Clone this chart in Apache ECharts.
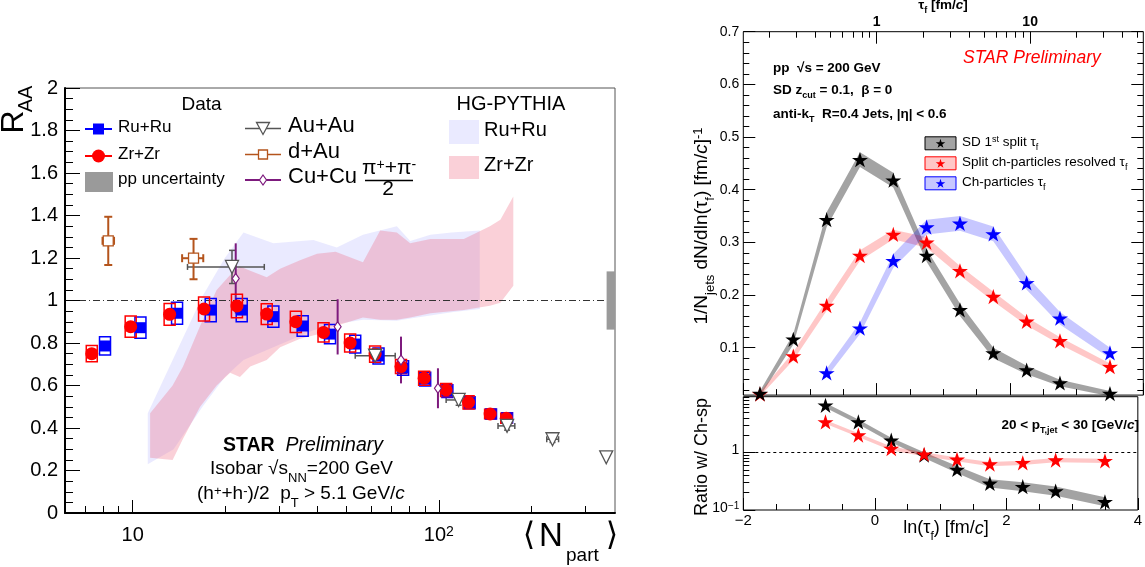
<!DOCTYPE html>
<html><head><meta charset="utf-8"><title>STAR isobar R_AA and tau_f</title>
<script src="https://cdn.jsdelivr.net/npm/echarts@6.0.0/dist/echarts.min.js"></script>
<style>html,body{margin:0;padding:0;background:#fff;}#chart{width:1145px;height:567px;}</style>
</head><body><div id="chart"></div>
<script>
// ================= LEFT PANEL DATA: R_AA vs <Npart> =================
const zrNpart = [7.35, 9.85, 13.2, 17.1, 21.9, 27.4, 34.1, 42.0, 51.3, 61.9, 75.2, 89.5, 105.6, 125, 147, 166];
const zrRAA   = [0.750, 0.877, 0.935, 0.960, 0.974, 0.936, 0.900, 0.850, 0.800, 0.748, 0.689, 0.634, 0.579, 0.521, 0.466, 0.446];
const zrSys   = [0.038, 0.050, 0.051, 0.057, 0.055, 0.049, 0.050, 0.045, 0.042, 0.038, 0.033, 0.033, 0.031, 0.031, 0.022, 0.024];
const ruNpart = [8.12, 10.6, 13.96, 17.98, 22.7, 28.8, 35.9, 44.1, 53.3, 63.5, 76.4, 90.2, 106.6, 126, 148, 167];
const ruRAA   = [0.786, 0.872, 0.940, 0.955, 0.955, 0.924, 0.880, 0.842, 0.795, 0.739, 0.682, 0.630, 0.574, 0.519, 0.466, 0.448];
const ruSys   = [0.043, 0.050, 0.052, 0.055, 0.055, 0.050, 0.048, 0.045, 0.042, 0.038, 0.034, 0.032, 0.030, 0.028, 0.024, 0.024];

const auNpart = [21.1, 61.9, 116, 167, 235, 352];
const auRAA   = [1.158, 0.740, 0.532, 0.410, 0.347, 0.262];
const auErr   = [0.078, 0, 0.025, 0.02, 0.015, 0];
const auNlo   = [15.1, 53.3, 105.6, 156, 225, 352];
const auNhi   = [26.9, 72.0, 127, 177, 246, 352];

const dauNpart = [8.32, 15.8];
const dauRAA   = [1.281, 1.199];
const dauErrUp = [0.113, 0.091];
const dauErrDn = [0.114, 0.099];
const dauNlo   = [7.97, 14.5];
const dauNhi   = [8.69, 17.0];

const cuNpart = [21.7, 46.7, 75.2, 99.3];
const cuRAA   = [1.104, 0.876, 0.720, 0.587];
const cuErr   = [0.165, 0.130, 0.110, 0.094];

const ppUncertainty = 0.137;
const ppBoxNpart = [353, 376];

const hgRuNpart = [11.2, 13.6, 16.9, 20.0, 23.0, 28.8, 38.9, 46.4, 56.5, 72.9, 80.6, 93.8, 110, 136];
const hgRuHigh  = [0.47, 0.73, 1.02, 1.20, 1.32, 1.27, 1.285, 1.25, 1.31, 1.35, 1.28, 1.31, 1.32, 1.33];
const hgRuLow   = [0.23, 0.30, 0.50, 0.64, 0.72, 0.78, 0.86, 0.89, 0.91, 0.905, 0.915, 0.93, 0.945, 0.96];
const hgZrNpart = [11.4, 13.5, 14.6, 16.6, 18.8, 20.8, 22.4, 24.2, 27.4, 30.3, 35.2, 40, 46, 56.5, 64.3, 72.9, 80.6, 93.8, 120.6, 146.8, 158.8, 175];
const hgZrHigh  = [0.47, 0.60, 0.69, 0.88, 1.05, 1.12, 1.16, 1.14, 1.11, 1.15, 1.19, 1.22, 1.23, 1.18, 1.33, 1.32, 1.27, 1.29, 1.29, 1.35, 1.38, 1.49];
const hgZrLow   = [0.26, 0.25, 0.35, 0.50, 0.60, 0.66, 0.64, 0.69, 0.72, 0.78, 0.82, 0.84, 0.88, 0.92, 0.91, 0.91, 0.92, 0.94, 0.955, 0.975, 0.99, 1.07];

const npartMajorTicks = [10, 100];
const npartMinorTicks = [7, 8, 9, 20, 30, 40, 50, 60, 70, 80, 90, 200, 300];

// ================= RIGHT PANEL DATA: tau_f distributions =================
const lnTau        = [-1.75, -1.25, -0.75, -0.25, 0.25, 0.75, 1.25, 1.75, 2.25, 2.75, 3.5];
const sdFirstSplit = [0.013, 0.116, 0.343, 0.457, 0.418, 0.275, 0.172, 0.090, 0.0575, 0.033, 0.013];
const sdErr        = [0.005, 0.010, 0.014, 0.014, 0.014, 0.012, 0.012, 0.010, 0.008, 0.006, 0.005];
const splitResolved = [0.012, 0.084, 0.180, 0.275, 0.315, 0.300, 0.246, 0.197, 0.150, 0.113, 0.064];
const splitErr      = [0.004, 0.008, 0.010, 0.010, 0.009, 0.010, 0.009, 0.009, 0.008, 0.007, 0.006];
const lnTauCh      = [-0.75, -0.25, 0.25, 0.75, 1.25, 1.75, 2.25, 2.75, 3.5];
const chParticles  = [0.052, 0.137, 0.265, 0.329, 0.336, 0.316, 0.223, 0.156, 0.090];
const chErr        = [0.008, 0.011, 0.013, 0.014, 0.014, 0.014, 0.013, 0.012, 0.010];
const ratioSD      = [6.6, 3.39, 1.63, 0.90, 0.507, 0.29, 0.254, 0.213, 0.139];
const ratioSDRel   = [0.10, 0.10, 0.10, 0.12, 0.15, 0.18, 0.20, 0.20, 0.20];
const ratioSplit   = [3.39, 2.0, 1.17, 0.93, 0.757, 0.627, 0.66, 0.736, 0.716];
const ratioSplitRel = [0.08, 0.08, 0.08, 0.08, 0.08, 0.09, 0.09, 0.09, 0.09];

const lnTauMajorTicks = [-2, 0, 2, 4];
const lnTauMinorTicks = [-1.5, -1, -0.5, 0.5, 1, 1.5, 2.5, 3, 3.5];
const tauMajorTicks = [1, 10];
const tauMinorTicks = [0.2, 0.3, 0.4, 0.5, 0.6, 0.7, 0.8, 0.9, 2, 3, 4, 5, 6, 7, 8, 9, 20, 30, 40, 50];
const densMajorTicks = [0.1, 0.2, 0.3, 0.4, 0.5, 0.6, 0.7];
const densMinorTicks = [];
for (let k = 1; k < 35; k++) if (k % 5 !== 0) densMinorTicks.push(k * 0.02);
const ratioMajorTicks = [0.1, 1];
const ratioMinorTicks = [0.2, 0.3, 0.4, 0.5, 0.6, 0.7, 0.8, 0.9, 2, 3, 4, 5, 6, 7, 8, 9];

// ================= helpers =================
const FAM = '"Liberation Sans", Arial, Helvetica, sans-serif';
const lg = v => Math.log10(v);
const LX0 = lg(6.01), LX1 = lg(376);
const DY0 = 0.01, DY1 = 0.7;
const RY0 = -1, RY1 = lg(9.3);
const HG_RU_FILL = 'rgba(150,150,255,0.20)';
const HG_ZR_FILL = 'rgba(240,100,125,0.30)';

function richSet(F, o) {
  o = o || {};
  const w = o.weight || 'normal', c = o.color || '#000', fam = o.family || FAM;
  const L = Math.round(F * 1.25), f = Math.round(F * 0.68);
  const base = {fontFamily: fam, fontWeight: w, color: c, fill: c};
  const st = (x) => Object.assign({}, base, x);
  return {
    n:  st({fontSize: F, lineHeight: L, verticalAlign: 'top', fontStyle: o.italic ? 'italic' : 'normal'}),
    i:  st({fontSize: F, lineHeight: L, verticalAlign: 'top', fontStyle: 'italic'}),
    b:  st({fontSize: F, lineHeight: L, verticalAlign: 'top', fontWeight: 'bold'}),
    sb: st({fontSize: f, lineHeight: f, verticalAlign: 'top', padding: [Math.round(0.61 * F), 0, 0, 0]}),
    sp: st({fontSize: f, lineHeight: f, verticalAlign: 'top', padding: [0, 0, 0, 0]})
  };
}
function gtext(x, y, text, F, o) {
  o = o || {};
  if (text.indexOf('{') !== 0) text = '{n|' + text + '}';
  return {type: 'text', x: x, y: y, rotation: o.rot || 0, z: 100, silent: true,
    style: {text: text, rich: richSet(F, o), align: o.align || 'left', verticalAlign: o.va || 'middle',
            fontSize: F, fontFamily: o.family || FAM, fill: o.color || '#000'}};
}
function starPts(cx, cy, R) {
  const pts = [];
  for (let k = 0; k < 10; k++) {
    const r = k % 2 ? R * 0.38 : R, a = -Math.PI / 2 + k * Math.PI / 5;
    pts.push([cx + r * Math.cos(a), cy + r * Math.sin(a)]);
  }
  return pts;
}
const STAR = 'path://M' + starPts(50, 50, 50).map(p => p[0].toFixed(2) + ' ' + p[1].toFixed(2)).join(' L') + ' Z';

function tickAxis(o) {
  const a = {type: 'value', silent: true, splitLine: {show: false}, minorTick: {show: false},
    axisLine: {show: false, onZero: false}, axisLabel: {show: false}, z: 10};
  return Object.assign(a, o);
}
function ticks(vals, len) {
  return {show: true, inside: true, length: len, customValues: vals, lineStyle: {color: '#000', width: 1}};
}

// band polygon custom series
function band(xs, lo, hi, fill, xi, yi, z) {
  const data = xs.map((x, k) => [x, lo[k], hi[k]]);
  return {type: 'custom', xAxisIndex: xi, yAxisIndex: yi, silent: true, z: z || 2, data: data,
    renderItem: function (p, api) {
      if (p.dataIndex !== 0) return null;
      const pts = [];
      for (let k = 0; k < data.length; k++) pts.push(api.coord([data[k][0], data[k][2]]));
      for (let k = data.length - 1; k >= 0; k--) pts.push(api.coord([data[k][0], data[k][1]]));
      return {type: 'polygon', shape: {points: pts}, style: {fill: fill, stroke: 'none'}};
    }};
}
// systematic open boxes
function boxes(xs, ys, sys, color) {
  return {type: 'custom', xAxisIndex: 0, yAxisIndex: 0, silent: true, z: 6,
    data: xs.map((x, k) => [lg(x), ys[k], sys[k]]),
    renderItem: function (p, api) {
      const t = api.coord([api.value(0), api.value(1) + api.value(2)]);
      const b = api.coord([api.value(0), api.value(1) - api.value(2)]);
      return {type: 'rect', shape: {x: t[0] - 5.5, y: t[1], width: 11, height: b[1] - t[1]},
        style: {fill: 'none', stroke: color, lineWidth: 1.5}};
    }};
}
// error bars
function errBars(xs, ys, xlo, xhi, eDn, eUp, color, lw, cap) {
  return {type: 'custom', xAxisIndex: 0, yAxisIndex: 0, silent: true, z: 6,
    data: xs.map((x, k) => [lg(x), ys[k], lg(xlo[k]), lg(xhi[k]), eDn[k], eUp[k]]),
    renderItem: function (p, api) {
      const x = api.value(0), y = api.value(1);
      const c = api.coord([x, y]), ch = [];
      const st = {stroke: color, lineWidth: lw};
      if (api.value(4) > 0 || api.value(5) > 0) {
        const t = api.coord([x, y + api.value(5)]), b = api.coord([x, y - api.value(4)]);
        ch.push({type: 'line', shape: {x1: c[0], y1: t[1], x2: c[0], y2: b[1]}, style: st});
        if (cap) {
          ch.push({type: 'line', shape: {x1: c[0] - cap, y1: t[1], x2: c[0] + cap, y2: t[1]}, style: st});
          ch.push({type: 'line', shape: {x1: c[0] - cap, y1: b[1], x2: c[0] + cap, y2: b[1]}, style: st});
        }
      }
      if (api.value(3) > api.value(2)) {
        const l = api.coord([api.value(2), y]), r = api.coord([api.value(3), y]);
        ch.push({type: 'line', shape: {x1: l[0], y1: c[1], x2: r[0], y2: c[1]}, style: st});
        if (cap) {
          ch.push({type: 'line', shape: {x1: l[0], y1: c[1] - cap, x2: l[0], y2: c[1] + cap}, style: st});
          ch.push({type: 'line', shape: {x1: r[0], y1: c[1] - cap, x2: r[0], y2: c[1] + cap}, style: st});
        }
      }
      return {type: 'group', children: ch};
    }};
}
function pts(xs, ys, tx) { return xs.map((x, k) => [tx ? tx(x) : x, ys[k]]); }

// ================= axes =================
const labRich = (F) => ({
  n: {fontSize: F, fontFamily: FAM, color: '#000', lineHeight: Math.round(F * 1.25), verticalAlign: 'top'},
  sp: {fontSize: Math.round(F * 0.68), fontFamily: FAM, color: '#000', lineHeight: Math.round(F * 0.68), verticalAlign: 'top'}
});

const xAxes = [
  // 0,1 left panel
  tickAxis({gridIndex: 0, min: LX0, max: LX1, position: 'bottom',
    axisLine: {show: true, onZero: false, lineStyle: {color: '#000', width: 2}},
    axisTick: ticks(npartMinorTicks.map(lg), 7)}),
  tickAxis({gridIndex: 0, min: LX0, max: LX1, position: 'bottom',
    axisTick: ticks(npartMajorTicks.map(lg), 13),
    axisLabel: {show: true, customValues: npartMajorTicks.map(lg), margin: 12, rich: labRich(20),
      formatter: v => v < 1.5 ? '{n|10}' : '{n|10}{sp|2}'}}),
  // 2,3 top pad bottom
  tickAxis({gridIndex: 1, min: -2, max: 4, position: 'bottom', axisTick: ticks(lnTauMajorTicks, 12)}),
  tickAxis({gridIndex: 1, min: -2, max: 4, position: 'bottom', axisTick: ticks(lnTauMinorTicks, 6)}),
  // 4,5 top pad top (tau_f)
  tickAxis({gridIndex: 1, min: -2, max: 4, position: 'top', axisTick: ticks(tauMajorTicks.map(Math.log), 12),
    axisLabel: {show: true, customValues: tauMajorTicks.map(Math.log), margin: 3,
      fontSize: 14, fontWeight: 'bold', fontFamily: FAM, color: '#000',
      formatter: v => String(Math.round(Math.exp(v)))}}),
  tickAxis({gridIndex: 1, min: -2, max: 4, position: 'top', axisTick: ticks(tauMinorTicks.map(Math.log), 6)}),
  // 6,7 ratio pad bottom
  tickAxis({gridIndex: 2, min: -2, max: 4, position: 'bottom', axisTick: ticks(lnTauMajorTicks, 12),
    axisLabel: {show: true, customValues: lnTauMajorTicks, margin: 3, fontSize: 15, fontFamily: FAM, color: '#000',
      formatter: v => v < 0 ? '\u2212' + Math.abs(v) : String(v)}}),
  tickAxis({gridIndex: 2, min: -2, max: 4, position: 'bottom', axisTick: ticks(lnTauMinorTicks, 6)})
];

const yAxes = [
  // 0 left panel
  {type: 'value', gridIndex: 0, min: 0, max: 2, interval: 0.2, silent: true, z: 10,
    axisLine: {show: true, onZero: false, lineStyle: {color: '#000', width: 2}},
    axisTick: {show: true, inside: true, length: 15, lineStyle: {color: '#000'}},
    minorTick: {show: true, splitNumber: 4, length: 8, lineStyle: {color: '#000'}},
    splitLine: {show: false},
    axisLabel: {fontSize: 20, fontFamily: FAM, color: '#000', margin: 7}},
  // 1,2 top pad left
  tickAxis({gridIndex: 1, min: DY0, max: DY1, position: 'left', axisTick: ticks(densMajorTicks, 12),
    axisLabel: {show: true, customValues: densMajorTicks, margin: 4, fontSize: 14, fontFamily: FAM, color: '#000',
      formatter: v => v.toFixed(1)}}),
  tickAxis({gridIndex: 1, min: DY0, max: DY1, position: 'left', axisTick: ticks(densMinorTicks, 6)}),
  // 3,4 top pad right
  tickAxis({gridIndex: 1, min: DY0, max: DY1, position: 'right', axisTick: ticks(densMajorTicks, 12)}),
  tickAxis({gridIndex: 1, min: DY0, max: DY1, position: 'right', axisTick: ticks(densMinorTicks, 6)}),
  // 5,6 ratio pad left (log10 scale)
  tickAxis({gridIndex: 2, min: RY0, max: RY1, position: 'left', axisTick: ticks(ratioMajorTicks.map(lg), 12),
    axisLabel: {show: true, customValues: ratioMajorTicks.map(lg), margin: 4, rich: labRich(14),
      formatter: v => v < -0.5 ? '{n|10}{sp|\u22121}' : '{n|1}'}}),
  tickAxis({gridIndex: 2, min: RY0, max: RY1, position: 'left', axisTick: ticks(ratioMinorTicks.map(lg), 6)})
];

// ================= series =================
const series = [];
// left panel
const hgRu = band(hgRuNpart.map(lg), hgRuLow, hgRuHigh, HG_RU_FILL, 0, 0, 1);
hgRu.markLine = {silent: true, symbol: 'none', z: 3, label: {show: false},
  lineStyle: {color: '#333', width: 1, type: [7, 3, 1, 3]}, data: [{yAxis: 1}]};
series.push(hgRu);
series.push(band(hgZrNpart.map(lg), hgZrLow, hgZrHigh, HG_ZR_FILL, 0, 0, 1));
series.push({type: 'custom', xAxisIndex: 0, yAxisIndex: 0, silent: true, z: 4,
  data: [[lg(ppBoxNpart[0]), lg(ppBoxNpart[1]), 1 - ppUncertainty, 1 + ppUncertainty]],
  renderItem: function (p, api) {
    const a = api.coord([api.value(0), api.value(3)]), b = api.coord([api.value(1), api.value(2)]);
    return {type: 'rect', shape: {x: a[0], y: a[1], width: b[0] - a[0], height: b[1] - a[1]}, style: {fill: '#9a9a9a'}};
  }});
series.push(errBars(auNpart, auRAA, auNlo, auNhi, auErr, auErr, '#555', 1.5, 3));
series.push(errBars(dauNpart, dauRAA, dauNlo, dauNhi, dauErrDn, dauErrUp, '#b4541c', 2, 4));
series.push(errBars(cuNpart, cuRAA, cuNpart, cuNpart, cuErr, cuErr, '#7d1a7d', 2, 0));
series.push(boxes(ruNpart, ruRAA, ruSys, '#0000ff'));
series.push(boxes(zrNpart, zrRAA, zrSys, '#ff0000'));
series.push({type: 'scatter', xAxisIndex: 0, yAxisIndex: 0, silent: true, z: 7, symbol: 'rect', symbolSize: 11,
  itemStyle: {color: '#0000ff', opacity: 1}, data: pts(ruNpart, ruRAA, lg)});
series.push({type: 'scatter', xAxisIndex: 0, yAxisIndex: 0, silent: true, z: 7, symbol: 'circle', symbolSize: 13,
  itemStyle: {color: '#ff0000', opacity: 1}, data: pts(zrNpart, zrRAA, lg)});
series.push({type: 'scatter', xAxisIndex: 0, yAxisIndex: 0, silent: true, z: 8, symbol: 'triangle', symbolRotate: 180,
  symbolSize: 13, itemStyle: {color: '#fff', borderColor: '#555', borderWidth: 1.3, opacity: 1}, data: pts(auNpart, auRAA, lg)});
series.push({type: 'scatter', xAxisIndex: 0, yAxisIndex: 0, silent: true, z: 8, symbol: 'rect', symbolSize: 10,
  itemStyle: {color: '#fff', borderColor: '#b4541c', borderWidth: 1.3, opacity: 1}, data: pts(dauNpart, dauRAA, lg)});
series.push({type: 'scatter', xAxisIndex: 0, yAxisIndex: 0, silent: true, z: 8, symbol: 'diamond', symbolSize: [7, 10],
  itemStyle: {color: '#fff', borderColor: '#7d1a7d', borderWidth: 1.2, opacity: 1}, data: pts(cuNpart, cuRAA, lg)});

// right panel: top pad
function topSet(xs, ys, err, fill, col, zs) {
  series.push(band(xs, ys.map((v, k) => v - err[k]), ys.map((v, k) => v + err[k]), fill, 2, 1, 2));
  series.push({type: 'scatter', xAxisIndex: 2, yAxisIndex: 1, silent: true, z: zs, symbol: STAR, symbolSize: 16,
    symbolKeepAspect: true, itemStyle: {color: col, opacity: 1}, data: pts(xs, ys)});
}
topSet(lnTau, sdFirstSplit, sdErr, 'rgba(0,0,0,0.36)', '#000', 4);
topSet(lnTau, splitResolved, splitErr, 'rgba(255,0,0,0.22)', '#ff0000', 3);
topSet(lnTauCh, chParticles, chErr, 'rgba(0,0,255,0.22)', '#0000ff', 3);
// ratio pad
function ratioSet(xs, ys, rel, fill, col, ml) {
  const b = band(xs, ys.map((v, k) => lg(v / (1 + rel[k]))), ys.map((v, k) => lg(v * (1 + rel[k]))), fill, 6, 5, 2);
  if (ml) b.markLine = {silent: true, symbol: 'none', z: 1, label: {show: false},
    lineStyle: {color: '#000', width: 1, type: [3, 3]}, data: [{yAxis: 0}]};
  series.push(b);
  series.push({type: 'scatter', xAxisIndex: 6, yAxisIndex: 5, silent: true, z: 3, symbol: STAR, symbolSize: 16,
    symbolKeepAspect: true, itemStyle: {color: col, opacity: 1}, data: pts(xs, ys.map(lg))});
}
ratioSet(lnTauCh, ratioSD, ratioSDRel, 'rgba(0,0,0,0.36)', '#000', true);
ratioSet(lnTauCh, ratioSplit, ratioSplitRel, 'rgba(255,0,0,0.22)', '#ff0000', false);

// ================= graphic texts & legends =================
const G = [];
// left panel titles
G.push(gtext(18.5, 122, 'R', 32, {rot: Math.PI / 2, align: 'center'}));
G.push(gtext(29, 99, 'AA', 20, {rot: Math.PI / 2, align: 'center'}));
G.push(gtext(529, 541, '\u27E8', 32, {align: 'center', family: '"DejaVu Sans", sans-serif'}));
G.push(gtext(551, 541, 'N', 33, {align: 'center'}));
G.push(gtext(566, 558, 'part', 19, {align: 'left'}));
G.push(gtext(612, 541, '\u27E9', 32, {align: 'center', family: '"DejaVu Sans", sans-serif'}));
// left legend (Data)
G.push(gtext(201.5, 107, 'Data', 19, {align: 'center'}));
G.push({type: 'line', z: 100, shape: {x1: 85, y1: 129, x2: 112, y2: 129}, style: {stroke: '#0000ff', lineWidth: 2}});
G.push({type: 'rect', z: 101, shape: {x: 93, y: 123.5, width: 11, height: 11}, style: {fill: '#0000ff'}});
G.push(gtext(118, 129, 'Ru+Ru', 17));
G.push({type: 'line', z: 100, shape: {x1: 85, y1: 156, x2: 112, y2: 156}, style: {stroke: '#ff0000', lineWidth: 2}});
G.push({type: 'circle', z: 101, shape: {cx: 98.5, cy: 156, r: 6.5}, style: {fill: '#ff0000'}});
G.push(gtext(118, 156, 'Zr+Zr', 17));
G.push({type: 'rect', z: 100, shape: {x: 85, y: 172, width: 28, height: 20}, style: {fill: '#9a9a9a'}});
G.push(gtext(118, 181, 'pp uncertainty', 17));
G.push({type: 'line', z: 100, shape: {x1: 245, y1: 128.5, x2: 281, y2: 128.5}, style: {stroke: '#555', lineWidth: 1.5}});
G.push({type: 'polygon', z: 101, shape: {points: [[256.5, 122.5], [269.5, 122.5], [263, 134.5]]}, style: {fill: '#fff', stroke: '#555', lineWidth: 1.3}});
G.push(gtext(288, 129, 'Au+Au', 22));
G.push({type: 'line', z: 100, shape: {x1: 245, y1: 154.5, x2: 281, y2: 154.5}, style: {stroke: '#b4541c', lineWidth: 1.5}});
G.push({type: 'rect', z: 101, shape: {x: 258.5, y: 150, width: 9, height: 9}, style: {fill: '#fff', stroke: '#b4541c', lineWidth: 1.3}});
G.push(gtext(288, 155, 'd+Au', 22));
G.push({type: 'line', z: 100, shape: {x1: 245, y1: 180, x2: 281, y2: 180}, style: {stroke: '#7d1a7d', lineWidth: 2}});
G.push({type: 'polygon', z: 101, shape: {points: [[263, 175], [266.5, 180], [263, 185], [259.5, 180]]}, style: {fill: '#fff', stroke: '#7d1a7d', lineWidth: 1.2}});
G.push(gtext(288, 180, 'Cu+Cu', 22));
G.push(gtext(389, 171, '{n|\u03C0}{sp|+}{n|+\u03C0}{sp|-}', 21, {align: 'center'}));
G.push({type: 'line', z: 100, shape: {x1: 365, y1: 180.5, x2: 413, y2: 180.5}, style: {stroke: '#000', lineWidth: 1.5}});
G.push(gtext(388, 192, '2', 21, {align: 'center'}));
// HG-PYTHIA legend
G.push(gtext(511, 107, 'HG-PYTHIA', 20, {align: 'center'}));
G.push({type: 'rect', z: 100, shape: {x: 449, y: 120, width: 30, height: 24}, style: {fill: HG_RU_FILL}});
G.push(gtext(484, 133, 'Ru+Ru', 20));
G.push({type: 'rect', z: 100, shape: {x: 449, y: 156, width: 30, height: 23}, style: {fill: HG_ZR_FILL}});
G.push(gtext(484, 168, 'Zr+Zr', 20));
// STAR label block (left)
G.push(gtext(223, 448, '{b|STAR}{n|  }{i|Preliminary}', 19.5));
G.push(gtext(210, 471.5, '{n|Isobar \u221As}{sb|NN}{n|=200 GeV}', 19));
G.push(gtext(197, 496.5, '{n|(h}{sp|+}{n|+h}{sp|-}{n|)/2  p}{sb|T}{n| > 5.1 GeV/}{i|c}', 19));

// right panel texts
G.push(gtext(943, 7, '{n|\u03C4}{sb|f}{n| [fm/}{i|c}{n|]}', 13.5, {align: 'center', weight: 'bold'}));
G.push(gtext(963, 60, 'STAR Preliminary', 17.5, {italic: true, color: '#ff0000'}));
G.push(gtext(773, 69.5, 'pp  \u221As = 200 GeV', 13.5, {weight: 'bold'}));
G.push(gtext(773, 92, '{n|SD z}{sb|cut}{n| = 0.1,  \u03B2 = 0}', 13.5, {weight: 'bold'}));
G.push(gtext(773, 116, '{n|anti-k}{sb|T}{n|  R=0.4 Jets, |\u03B7| < 0.6}', 13.5, {weight: 'bold'}));
// right legend
const legRows = [
  {y: 143.3, fill: 'rgba(0,0,0,0.36)', col: '#000', text: '{n|SD 1}{sp|st}{n| split \u03C4}{sb|f}'},
  {y: 163.3, fill: 'rgba(255,0,0,0.22)', col: '#ff0000', text: '{n|Split ch-particles resolved \u03C4}{sb|f}'},
  {y: 183.3, fill: 'rgba(0,0,255,0.22)', col: '#0000ff', text: '{n|Ch-particles \u03C4}{sb|f}'}
];
legRows.forEach(r => {
  G.push({type: 'rect', z: 100, shape: {x: 925, y: r.y - 6.5, width: 31, height: 13}, style: {fill: r.fill, stroke: r.col, lineWidth: 1}});
  G.push({type: 'polygon', z: 101, shape: {points: starPts(940.5, r.y + 0.5, 5)}, style: {fill: r.col}});
  G.push(gtext(962, r.y, r.text, 13.5));
});
G.push(gtext(704, 226, '{n|1/N}{sb|jets}{n| dN/dln(\u03C4}{sb|f}{n|) [fm/}{i|c}{n|]}{sp|-1}', 19, {rot: Math.PI / 2, align: 'center'}));
G.push(gtext(705, 457, 'Ratio w/ Ch-sp', 18, {rot: Math.PI / 2, align: 'center'}));
G.push(gtext(1139, 426.5, '{n|20 < p}{sb|T,jet}{n| < 30 [GeV/}{i|c}{n|]}', 13.5, {align: 'right', weight: 'bold'}));
G.push(gtext(946, 531, '{n|ln(\u03C4}{sb|f}{n|) [fm/}{i|c}{n|]}', 18, {align: 'center'}));

// ================= chart =================
const chart = echarts.init(document.getElementById('chart'), null, {renderer: 'canvas', width: 1145, height: 567});
chart.setOption({
  animation: false,
  backgroundColor: '#fff',
  textStyle: {fontFamily: FAM},
  grid: [
    {left: 65, top: 88, width: 550, height: 425, show: true, borderColor: '#555', borderWidth: 1, containLabel: false},
    {left: 743.3, top: 31.7, width: 400, height: 363.4, show: true, borderColor: '#000', borderWidth: 1, containLabel: false},
    {left: 743.3, top: 396.7, width: 400, height: 113.3, show: true, borderColor: '#000', borderWidth: 1, containLabel: false}
  ],
  xAxis: xAxes,
  yAxis: yAxes,
  series: series,
  graphic: {elements: G}
});
</script></body></html>
